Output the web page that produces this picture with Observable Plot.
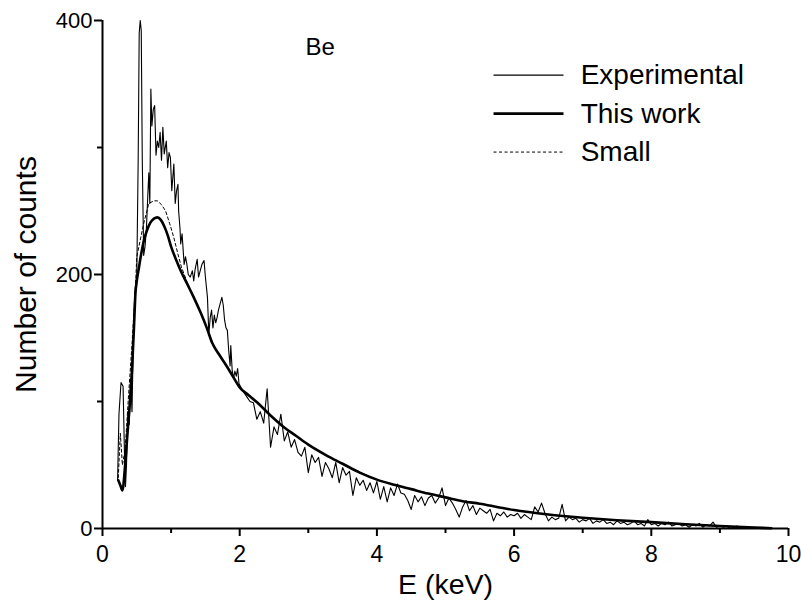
<!DOCTYPE html>
<html>
<head>
<meta charset="utf-8">
<script src="https://cdn.jsdelivr.net/npm/d3@7"></script>
<script src="https://cdn.jsdelivr.net/npm/@observablehq/plot@0.6"></script>
<style>
  html, body { margin: 0; padding: 0; background: #fff; }
  #chart { width: 801px; height: 609px; }
</style>
</head>
<body>
<div id="chart"></div>
<script>
// ---------- data ----------
const xMajorTicks = [0, 2, 4, 6, 8, 10];
const xMinorTicks = [1, 3, 5, 7, 9];
const yMajorTicks = [0, 200, 400];
const yMinorTicks = [100, 300];

// Experimental spectrum (E in keV, counts)
const expE = [
  0.22,0.24,0.27,0.30,0.32,0.335,0.35,0.37,0.39,0.41,0.43,0.45,0.47,0.49,0.50,0.52,0.535,0.55,0.565,0.58,0.60,
  0.62,0.64,0.66,0.675,0.69,0.705,0.72,0.74,0.76,0.78,0.80,0.82,0.84,0.86,0.88,0.90,0.93,0.95,0.97,0.99,
  1.01,1.04,1.06,1.08,1.10,1.11,1.13,1.14,1.16,1.19,1.21,1.23,1.25,1.28,1.31,1.33,1.35,1.38,1.40,1.42,
  1.45,1.48,1.50,1.53,1.55,1.57,1.59,1.61,1.63,1.65,1.67,1.69,1.72,1.74,1.76,1.78,1.80,1.82,1.84,1.86,
  1.87,1.89,1.91,1.93,1.95,1.97,1.99,
  2.05,2.10,2.15,2.20,2.25,2.30,2.35,2.40,2.45,2.50,2.55,2.60,2.65,2.70,2.75,2.80,2.85,2.90,2.95,3.00,
  3.05,3.10,3.15,3.20,3.25,3.30,3.35,3.40,3.45,3.50,3.55,3.60,3.65,3.70,3.75,3.80,3.85,3.90,3.95,4.00,
  4.05,4.10,4.15,4.20,4.25,4.30,4.35,4.40,4.45,4.50,4.55,4.60,4.65,4.70,4.75,4.80,4.85,4.90,4.95,5.00,
  5.05,5.10,5.15,5.20,5.25,5.30,5.35,5.40,5.45,5.50,5.55,5.60,5.65,5.70,5.75,5.80,5.85,5.90,5.95,6.00,
  6.05,6.10,6.15,6.20,6.25,6.30,6.35,6.40,6.45,6.50,6.55,6.60,6.65,6.70,6.75,6.80,6.85,6.90,6.95,7.00,
  7.05,7.10,7.15,7.20,7.25,7.30,7.35,7.40,7.45,7.50,7.55,7.60,7.65,7.70,7.75,7.80,7.85,7.90,7.95,8.00,
  8.05,8.10,8.15,8.20,8.25,8.30,8.35,8.40,8.45,8.50,8.55,8.60,8.65,8.70,8.75,8.80,8.85,8.90,8.95,9.00,
  9.05,9.10,9.15,9.20,9.25,9.30,9.35,9.40,9.45,9.50,9.55
];
const expN = [
  38,90,115,112,60,33,50,92,82,118,92,150,185,195,200,290,390,400,392,290,215,
  222,236,262,280,256,346,317,330,333,294,305,300,312,290,316,295,305,284,296,292,
  266,287,256,266,271,250,236,224,232,208,214,208,200,198,203,195,204,212,198,202,
  208,211,198,182,153,166,172,158,168,162,166,172,178,182,176,164,158,156,140,128,
  144,125,118,124,120,126,114,
  108,104,100,99,86,92,83,110,64,80,74,90,69,76,64,70,60,57,64,44,
  58,52,56,41,52,47,40,52,36,48,42,45,26,40,34,38,30,36,28,37,
  23,33,21,32,26,35,28,27,22,15,26,21,25,18,24,26,20,24,32,18,
  24,20,15,9,17,22,14,18,11,16,14,12,15,6,12,10,13,9,11,10,
  12,8,11,9,7,17,13,20,12,6,9,7,8,19,6,9,7,8,5,7,
  6,8,4,6,5,7,4,5,3,6,4,5,3,4,6,3,4,2,7,3,
  4,2,4,3,5,2,3,4,2,3,1,3,2,4,1,3,2,5,1,2,
  1,2,0,1,2,0,1,1,0,1,0
];

// "This work" calculation
const workE = [
  0.23,0.26,0.29,0.33,0.36,0.40,0.43,0.46,0.48,0.50,0.53,0.56,0.60,0.65,0.70,0.75,0.80,0.85,0.90,0.95,
  1.00,1.07,1.14,1.24,1.33,1.43,1.52,1.60,1.70,1.82,1.91,2.00,2.13,2.26,2.45,2.64,2.82,3.00,3.25,3.50,
  3.75,4.00,4.25,4.50,4.75,5.00,5.25,5.50,5.75,6.00,6.50,7.00,7.50,8.00,8.50,9.00,9.50,9.75
];
const workN = [
  38,34,30,50,72,100,125,160,185,195,205,215,226,235,241,244,245,243,238,231,
  222,212,203,192,182,170,158,146,137,127,119,111,105,99,89,80,73,66,58,51,
  44,38.5,34.5,31,27.5,24.5,21.5,19.5,17,14.5,11,8.5,6.5,5,3.3,2,0.8,0.2
];

// "Small" calculation
const smallE = [
  0.23,0.26,0.29,0.33,0.38,0.43,0.48,0.50,0.55,0.60,0.675,0.75,0.80,0.86,0.92,0.98,1.04,1.10,1.15,1.24,
  1.33,1.43,1.52,1.60,1.70,1.82,1.91,2.00,2.13,2.26,2.45,2.64,2.82,3.00,3.25,3.50,3.75,4.00,4.25,4.50,
  4.75,5.00,5.25,5.50,5.75,6.00,6.50,7.00,7.50,8.00,8.50,9.00,9.50,9.75
];
const smallN = [
  40,75,50,62,105,145,190,214,227,240,256,258,258,255,250,240,229,216,206,193,
  183,170,158,146,137,127,119,111,105,99,89,80,73,66,58,51,44,38.5,34.5,31,
  27.5,24.5,21.5,19.5,17,14.5,11,8.5,6.5,5,3.3,2,0.8,0.2
];

const seriesNames = ["Experimental", "This work", "Small"];
const panelLabel = "Be";
const xLabel = "E (keV)";
const yLabel = "Number of counts";

// ---------- build tables ----------
const expData = expE.map((e, i) => ({E: e, N: expN[i]}));
const workData = workE.map((e, i) => ({E: e, N: workN[i]}));
const smallData = smallE.map((e, i) => ({E: e, N: smallN[i]}));

const legendStyles = [
  {strokeWidth: 1.1, dash: null},
  {strokeWidth: 2.6, dash: null},
  {strokeWidth: 1, dash: "3,2.5"}
];
const legendRows = seriesNames.map((name, i) => ({name, i, y: 357 - 30.3 * i, ...legendStyles[i]}));

const font = "'Liberation Sans', Arial, Helvetica, sans-serif";

const plot = Plot.plot({
  width: 801,
  height: 609,
  marginLeft: 102,
  marginRight: 13,
  marginTop: 20,
  marginBottom: 81,
  style: {fontFamily: font, background: "#fff", color: "#000", overflow: "visible"},
  x: {domain: [0, 10]},
  y: {domain: [0, 400]},
  marks: [
    // data
    Plot.line(smallData, {x: "E", y: "N", stroke: "#000", strokeWidth: 1, strokeDasharray: "3,2.5"}),
    Plot.line(expData, {x: "E", y: "N", stroke: "#000", strokeWidth: 1.1, strokeLinejoin: "round"}),
    Plot.line(workData, {x: "E", y: "N", stroke: "#000", strokeWidth: 2.6, curve: "monotone-x"}),

    // axes
    Plot.ruleY([0], {stroke: "#000", strokeWidth: 2}),
    Plot.ruleX([0], {stroke: "#000", strokeWidth: 2}),
    Plot.axisX({ticks: xMajorTicks, tickSize: 8, tickPadding: 9, fontSize: 23, label: null, strokeWidth: 2, tickFormat: d => String(d)}),
    Plot.axisX({ticks: xMinorTicks, tickSize: 5, label: null, strokeWidth: 2, tickFormat: () => ""}),
    Plot.axisY({ticks: yMajorTicks, tickSize: 8, tickPadding: 2, fontSize: 22, label: null, strokeWidth: 2, tickFormat: d => String(d)}),
    Plot.axisY({ticks: yMinorTicks, tickSize: 5, label: null, strokeWidth: 2, tickFormat: () => ""}),

    // axis titles
    Plot.text([xLabel], {text: d => d, frameAnchor: "bottom", textAnchor: "middle", dy: 65, fontSize: 28.5, fill: "#000"}),
    Plot.text([yLabel], {text: d => d, frameAnchor: "left", textAnchor: "middle", dx: -76, rotate: -90, fontSize: 30, fill: "#000"}),

    // panel label
    Plot.text([panelLabel], {x: 2.96, y: 379, text: d => d, textAnchor: "start", fontSize: 24, fill: "#000"}),

    // legend
    Plot.link(legendRows.filter(d => !d.dash), {x1: 5.7, x2: 6.72, y1: "y", y2: "y", stroke: "#000", strokeWidth: "strokeWidth"}),
    Plot.link(legendRows.filter(d => d.dash), {x1: 5.7, x2: 6.72, y1: "y", y2: "y", stroke: "#000", strokeWidth: 1, strokeDasharray: "3,2.5"}),
    Plot.text(legendRows, {x: 6.97, y: "y", text: "name", textAnchor: "start", fontSize: 28, fill: "#000"})
  ]
});

document.getElementById("chart").appendChild(plot);
</script>
</body>
</html>
